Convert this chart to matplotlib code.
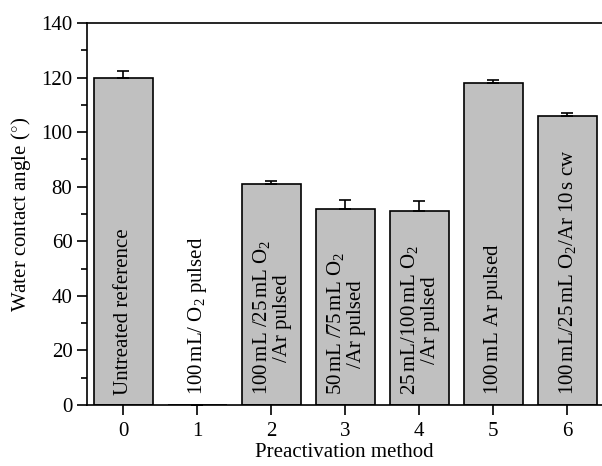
import numpy as np
import matplotlib.pyplot as plt
from matplotlib.ticker import MultipleLocator

methods = [0, 1, 2, 3, 4, 5, 6]
angles = [120, 0, 81, 72, 71, 118, 106]
errors = [2.5, 0, 1.2, 3.2, 3.6, 1.2, 1.0]
labels = ['Untreated reference',
          r'100$\,$mL/ O$_2$ pulsed',
          '100$\\,$mL /25$\\,$mL O$_2$\n/Ar pulsed',
          '50$\\,$mL /75$\\,$mL O$_2$\n/Ar pulsed',
          '25$\\,$mL/100$\\,$mL O$_2$\n/Ar pulsed',
          '100$\\,$mL Ar pulsed',
          '100$\\,$mL/25$\\,$mL O$_2$/Ar 10$\\,$s cw']

plt.rcParams['font.family'] = ['Liberation Serif', 'DejaVu Serif']
plt.rcParams['mathtext.fontset'] = 'custom'
plt.rcParams['mathtext.rm'] = 'Liberation Serif'
plt.rcParams['mathtext.it'] = 'Liberation Serif:italic'

fig = plt.figure(figsize=(6.02, 4.66), dpi=100)
ax = fig.add_axes([87/602, 61/466, 515/602, 382/466])

ax.bar(methods, angles, width=0.8, color='#c0c0c0', edgecolor='black', linewidth=1.2,
       yerr=[np.zeros(len(errors)), errors], capsize=4,
       error_kw=dict(elinewidth=1.2, capthick=1.2, ecolor='black'))

for x, lab in zip(methods, labels):
    ax.text(x, 3.5, lab, rotation=90, ha='center', va='bottom', fontsize=15,
            multialignment='center', linespacing=1.05)

ax.set_xlim(-0.49, 6.47)
ax.set_ylim(0, 140)
ax.yaxis.set_major_locator(MultipleLocator(20))
ax.yaxis.set_minor_locator(MultipleLocator(10))
ax.set_xticks(methods)
ax.tick_params(direction='out', length=7, width=1.2, labelsize=15)
ax.tick_params(axis='x', pad=5)
ax.tick_params(which='minor', direction='out', length=4, width=1.2)
ax.spines['right'].set_visible(False)
for side in ['left', 'bottom', 'top']:
    ax.spines[side].set_linewidth(1.2)
ax.set_xlabel('Preactivation method', fontsize=15, labelpad=2)
ax.set_ylabel('Water contact angle ($^{\\circ}$)', fontsize=15, labelpad=6)

fig.savefig('out.png', dpi=100)
